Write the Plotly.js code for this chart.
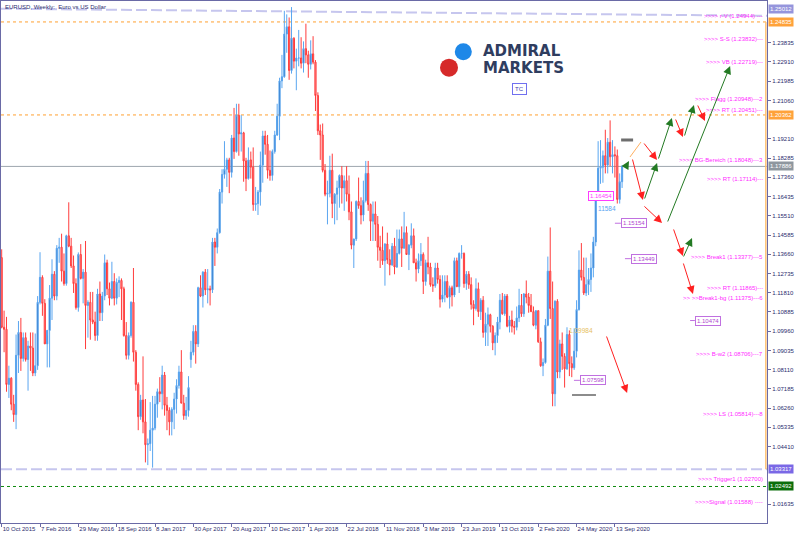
<!DOCTYPE html>
<html><head><meta charset="utf-8">
<script src="https://cdn.plot.ly/plotly-3.0.1.min.js"></script>
<style>html,body{margin:0;padding:0;background:#fff}#chart{width:800px;height:536px}</style>
</head><body><div id="chart"></div>
<script>
// ---- data: EURUSD weekly candles, first week starting 2015-10-18 ----
const firstWeek = Date.UTC(2015, 9, 18);
const open = [1.1350,1.1015,1.1005,1.0740,1.0770,1.0645,1.0595,1.0880,1.0990,1.0865,1.0965,
1.0860,1.0925,1.0915,1.0795,1.0830,1.1135,1.1255,1.1130,1.0935,1.1000,
1.1155,1.1270,1.1165,1.1395,1.1400,1.1285,1.1225,1.1455,1.1405,1.1310,
1.1225,1.1110,1.1365,1.1250,1.1280,1.1120,1.1135,1.1050,1.1040,1.0975,
1.1175,1.1085,1.1165,1.1325,1.1200,1.1155,1.1235,1.1155,1.1230,1.1240,
1.1200,1.0975,1.0880,1.0975,1.1135,1.0895,1.0740,1.0585,1.0665,1.0560,
1.0450,1.0455,1.0520,1.0530,1.0645,1.0705,1.0695,1.0785,1.0640,1.0615,
1.0560,1.0620,1.0670,1.0735,1.0800,1.0650,1.0590,1.0615,1.0860,1.0895,
1.0995,1.0935,1.1205,1.1165,1.1280,1.1195,1.1200,1.1195,1.1425,1.1400,
1.1470,1.1665,1.1750,1.1775,1.1820,1.1760,1.1925,1.1860,1.2035,1.1945,
1.1950,1.1815,1.1730,1.1820,1.1785,1.1605,1.1610,1.1665,1.1795,1.1935,
1.1895,1.1770,1.1745,1.1860,1.1940,1.2030,1.2200,1.2220,1.2425,1.2460,
1.2250,1.2405,1.2295,1.2310,1.2310,1.2285,1.2355,1.2325,1.2280,1.2330,
1.2290,1.2130,1.1960,1.1940,1.1770,1.1655,1.1660,1.1770,1.1610,1.1655,
1.1685,1.1745,1.1685,1.1720,1.1655,1.1570,1.1410,1.1440,1.1620,1.1600,
1.1555,1.1625,1.1755,1.1605,1.1525,1.1560,1.1510,1.1400,1.1385,1.1335,
1.1415,1.1340,1.1315,1.1405,1.1305,1.1370,1.1440,1.1395,1.1470,1.1365,
1.1410,1.1455,1.1325,1.1295,1.1335,1.1365,1.1235,1.1325,1.1305,1.1220,
1.1215,1.1300,1.1245,1.1150,1.1170,1.1235,1.1160,1.1205,1.1170,1.1335,
1.1210,1.1370,1.1370,1.1225,1.1270,1.1220,1.1125,1.1105,1.1200,1.1090,
1.1145,1.0990,1.1030,1.1075,1.1020,1.0940,1.0975,1.1040,1.1145,1.1080,
1.1165,1.1020,1.1050,1.1020,1.1015,1.1060,1.1120,1.1080,1.1175,1.1160,
1.1120,1.1090,1.1025,1.1095,1.0945,1.0830,1.0845,1.1025,1.1285,1.1105,
1.0695,1.1140,1.0800,1.0935,1.0875,1.0815,1.0980,1.0840,1.0820,1.0900,
1.1100,1.1290,1.1255,1.1180,1.1220,1.1245,1.1300,1.1425,1.1655,1.1780,
1.1785,1.1840,1.1795,1.1905,1.1835,1.1845,1.1840,1.1630,1.1715];
const high = [1.1390,1.1095,1.1065,1.0830,1.0775,1.0690,1.0980,1.1045,1.1060,1.0990,1.0990,
1.0950,1.0990,1.0990,1.0985,1.1165,1.1376,1.1265,1.1150,1.0975,1.1218,
1.1342,1.1285,1.1410,1.1445,1.1465,1.1370,1.1460,1.1616,1.1445,1.1360,
1.1250,1.1375,1.1415,1.1295,1.1430,1.1145,1.1185,1.1185,1.1090,1.1200,
1.1235,1.1185,1.1365,1.1340,1.1230,1.1330,1.1275,1.1250,1.1260,1.1250,
1.1210,1.1040,1.0990,1.1140,1.1300,1.0905,1.0750,1.0690,1.0875,1.0670,
1.0480,1.0655,1.0685,1.0685,1.0720,1.0775,1.0830,1.0800,1.0680,1.0630,
1.0630,1.0700,1.0765,1.0830,1.0905,1.0690,1.0680,1.0780,1.0950,1.1025,
1.1025,1.1210,1.1265,1.1285,1.1295,1.1295,1.1215,1.1445,1.1445,1.1490,
1.1680,1.1775,1.1910,1.1830,1.1830,1.1940,1.2070,1.2090,1.2090,1.2035,
1.1955,1.1830,1.1880,1.1860,1.1880,1.1690,1.1675,1.1860,1.1960,1.1960,
1.1940,1.1865,1.1870,1.1960,1.2090,1.2215,1.2325,1.2537,1.2520,1.2505,
1.2555,1.2410,1.2355,1.2445,1.2410,1.2390,1.2475,1.2345,1.2395,1.2415,
1.2300,1.2145,1.1990,1.1995,1.1800,1.1720,1.1840,1.1850,1.1660,1.1720,
1.1750,1.1790,1.1745,1.1790,1.1745,1.1620,1.1440,1.1625,1.1735,1.1640,
1.1720,1.1815,1.1815,1.1610,1.1620,1.1620,1.1550,1.1455,1.1500,1.1420,
1.1470,1.1390,1.1420,1.1445,1.1485,1.1485,1.1500,1.1570,1.1500,1.1415,
1.1515,1.1490,1.1345,1.1370,1.1420,1.1375,1.1340,1.1450,1.1325,1.1255,
1.1325,1.1325,1.1265,1.1265,1.1265,1.1265,1.1215,1.1215,1.1350,1.1350,
1.1375,1.1410,1.1375,1.1285,1.1285,1.1255,1.1145,1.1250,1.1230,1.1155,
1.1165,1.1085,1.1110,1.1080,1.1025,1.0990,1.1065,1.1175,1.1180,1.1175,
1.1175,1.1070,1.1095,1.1045,1.1115,1.1200,1.1175,1.1180,1.1240,1.1180,
1.1175,1.1115,1.1095,1.1095,1.0965,1.0865,1.1055,1.1355,1.1495,1.1235,
1.1145,1.1150,1.0955,1.0990,1.0890,1.1015,1.1000,1.0875,1.1010,1.1145,
1.1385,1.1420,1.1350,1.1350,1.1300,1.1370,1.1450,1.1655,1.1910,1.1915,
1.1865,1.1965,1.1925,1.2010,1.1915,1.1885,1.1870,1.1755,1.1795];
const low = [1.1010,1.0895,1.0705,1.0675,1.0616,1.0560,1.0525,1.0795,1.0805,1.0850,1.0850,
1.0710,1.0805,1.0780,1.0780,1.0810,1.1125,1.1070,1.0935,1.0822,1.0822,
1.1050,1.1145,1.1145,1.1325,1.1235,1.1215,1.1215,1.1400,1.1300,1.1180,
1.1100,1.1090,1.1245,1.1130,1.0910,1.0965,1.0955,1.1030,1.0950,1.0950,
1.1045,1.1045,1.1145,1.1170,1.1120,1.1150,1.1120,1.1125,1.1160,1.1050,
1.0970,1.0860,1.0860,1.0965,1.0850,1.0710,1.0520,1.0570,1.0505,1.0365,
1.0352,1.0420,1.0340,1.0520,1.0580,1.0655,1.0620,1.0590,1.0520,1.0495,
1.0495,1.0525,1.0600,1.0720,1.0650,1.0570,1.0570,1.0585,1.0820,1.0880,
1.0840,1.0920,1.1160,1.1110,1.1170,1.1130,1.1120,1.1180,1.1310,1.1370,
1.1465,1.1610,1.1730,1.1690,1.1660,1.1735,1.1825,1.1855,1.1840,1.1860,
1.1715,1.1670,1.1725,1.1730,1.1575,1.1575,1.1555,1.1600,1.1710,1.1845,
1.1730,1.1720,1.1720,1.1850,1.1935,1.1915,1.2165,1.2215,1.2335,1.2205,
1.2235,1.2260,1.2155,1.2270,1.2260,1.2240,1.2285,1.2215,1.2255,1.2280,
1.2055,1.1940,1.1820,1.1760,1.1645,1.1510,1.1640,1.1540,1.1510,1.1530,
1.1590,1.1610,1.1575,1.1620,1.1530,1.1390,1.1300,1.1430,1.1585,1.1510,
1.1525,1.1615,1.1575,1.1430,1.1430,1.1430,1.1335,1.1300,1.1315,1.1215,
1.1320,1.1265,1.1310,1.1270,1.1300,1.1365,1.1305,1.1395,1.1365,1.1290,
1.1395,1.1325,1.1235,1.1275,1.1310,1.1175,1.1215,1.1270,1.1210,1.1185,
1.1205,1.1225,1.1110,1.1135,1.1135,1.1155,1.1105,1.1115,1.1160,1.1210,
1.1180,1.1345,1.1205,1.1195,1.1200,1.1100,1.1025,1.1095,1.1065,1.1050,
1.0965,1.0925,1.0925,1.0990,1.0905,1.0880,1.0940,1.1005,1.1075,1.1070,
1.1015,1.0990,1.0990,1.0980,1.1000,1.1040,1.1065,1.1065,1.1130,1.1085,
1.1090,1.1020,1.1005,1.0940,1.0825,1.0780,1.0840,1.1020,1.1055,1.0635,
1.0635,1.0770,1.0770,1.0810,1.0725,1.0810,1.0780,1.0775,1.0810,1.0870,
1.1095,1.1240,1.1170,1.1165,1.1170,1.1185,1.1255,1.1405,1.1640,1.1705,
1.1710,1.1755,1.1755,1.1790,1.1755,1.1735,1.1610,1.1610,1.1685];
const close = [1.1015,1.1005,1.0740,1.0770,1.0645,1.0595,1.0880,1.0990,1.0865,1.0965,1.0860,
1.0925,1.0915,1.0795,1.0830,1.1135,1.1255,1.1130,1.0935,1.1000,1.1155,
1.1270,1.1165,1.1395,1.1400,1.1285,1.1225,1.1455,1.1405,1.1310,1.1225,
1.1110,1.1365,1.1250,1.1280,1.1120,1.1135,1.1050,1.1040,1.0975,1.1175,
1.1085,1.1165,1.1325,1.1200,1.1155,1.1235,1.1155,1.1230,1.1240,1.1200,
1.0975,1.0880,1.0975,1.1135,1.0895,1.0740,1.0585,1.0665,1.0560,1.0450,
1.0455,1.0520,1.0530,1.0645,1.0705,1.0695,1.0785,1.0640,1.0615,1.0560,
1.0620,1.0670,1.0735,1.0800,1.0650,1.0590,1.0615,1.0725,1.0895,1.0995,
1.0935,1.1205,1.1165,1.1280,1.1195,1.1200,1.1195,1.1425,1.1400,1.1470,
1.1665,1.1750,1.1775,1.1820,1.1760,1.1925,1.1860,1.2035,1.1945,1.1950,
1.1815,1.1730,1.1820,1.1785,1.1605,1.1610,1.1665,1.1795,1.1935,1.1895,
1.1770,1.1745,1.1860,1.1940,1.2030,1.2200,1.2220,1.2425,1.2460,1.2250,
1.2405,1.2295,1.2310,1.2310,1.2285,1.2355,1.2325,1.2280,1.2330,1.2290,
1.2130,1.1960,1.1940,1.1770,1.1655,1.1660,1.1770,1.1610,1.1655,1.1685,
1.1745,1.1685,1.1720,1.1655,1.1570,1.1410,1.1440,1.1620,1.1600,1.1555,
1.1625,1.1755,1.1605,1.1525,1.1560,1.1510,1.1400,1.1385,1.1335,1.1415,
1.1340,1.1315,1.1405,1.1305,1.1370,1.1440,1.1395,1.1470,1.1365,1.1410,
1.1455,1.1325,1.1295,1.1335,1.1365,1.1235,1.1325,1.1305,1.1220,1.1215,
1.1300,1.1245,1.1150,1.1170,1.1235,1.1160,1.1205,1.1170,1.1335,1.1210,
1.1370,1.1370,1.1225,1.1270,1.1220,1.1125,1.1105,1.1200,1.1090,1.1145,
1.0990,1.1030,1.1075,1.1020,1.0940,1.0975,1.1040,1.1145,1.1080,1.1165,
1.1020,1.1050,1.1020,1.1015,1.1060,1.1120,1.1080,1.1175,1.1160,1.1120,
1.1090,1.1025,1.1095,1.0945,1.0830,1.0845,1.1025,1.1285,1.1105,1.0695,
1.1140,1.0800,1.0935,1.0875,1.0815,1.0980,1.0840,1.0820,1.0900,1.1100,
1.1290,1.1255,1.1180,1.1220,1.1245,1.1300,1.1425,1.1655,1.1780,1.1785,
1.1840,1.1795,1.1905,1.1835,1.1845,1.1840,1.1630,1.1715,1.17886];

// x tick labels (one every 16 weeks)
const xTickLabels = ['10 Oct 2015','7 Feb 2016','29 May 2016','18 Sep 2016','8 Jan 2017','30 Apr 2017',
 '20 Aug 2017','10 Dec 2017','1 Apr 2018','22 Jul 2018','11 Nov 2018','3 Mar 2019','23 Jun 2019',
 '13 Oct 2019','2 Feb 2020','24 May 2020','13 Sep 2020'];
const xTickWeeks = [0,16,32,48,64,80,96,112,128,144,160,176,192,208,224,240,256];
const yTickValues = [1.01635,1.04410,1.05335,1.06260,1.07185,1.08110,1.09035,1.09960,1.10885,1.11810,
 1.12735,1.13660,1.14585,1.15510,1.16435,1.17360,1.18285,1.19210,1.21060,1.21985,1.22910,1.23835];

// level lines
const orangeLevels = [1.24835, 1.20362];
const currentPrice = 1.17886;
const supportDashed = 1.03317;
const greenLevel = 1.02492;
const topTrendline = [1.2547, 1.2513];   // left / right end

// right-axis price tags
const tagTexts  = ['1.25012','1.24835','1.20362','1.17886','1.03317','1.02492'];
const tagPrices = [1.2546, 1.24835, 1.20362, 1.17886, 1.03317, 1.02492];
const tagColors = ['#9595dc','#ffa23a','#ffa23a','#8e979f','#7a68e6','#0c6e0c'];

// analyst level notes (magenta)
const noteTexts = ['>>>> r-V (1.24944) ---','>>>> S-S (1.23832)---','>>>> VB (1.22719)---',
 '>>>> Flagg (1.20948)---2','>>>> RT (1.20451)---','>>>> BG-Bereich (1.18048)---3','>>>> RT (1.17114)---',
 '>>>> Break1 (1.13377)---5','>>>> RT (1.11865)---','>> >>Break1-bg (1.11375)---6','>>>> B-w2 (1.08706)---7',
 '>>>> LS (1.05814)---8','>>>> Trigger1 (1.02700)','>>>>Signal (1.01588) ----'];
const notePrices = [1.24944,1.23832,1.22719,1.20948,1.20451,1.18048,1.17114,1.13377,1.11865,1.11375,1.08706,1.05814,1.02700,1.01588];

// boxed price marks inside the chart: [text, week of left edge, price, leader from week]
const boxTexts  = ['1.16454','1.15154','1.13449','1.10474','1.07598'];
const boxWeeks  = [244.8, 258.5, 262.7, 289.4, 241.4];
const boxPrices = [1.16454, 1.15154, 1.13449, 1.10474, 1.07598];
const boxLeaderFrom = [253.5, 256.0, 260.2, 287.4, 238.9];
const boxColors = ['#ff3cff','#c070e0','#c070e0','#c070e0','#c070e0'];

// projection arrows: tail week, tail price, tip week, tip price, direction
const arrowTailW = [267.7,260.2,263.2,268.2,267.7,277.8,274.0,281.1,284.9,290.3,280.3,284.4,284.4,252.3];
const arrowTailP = [1.19061,1.17810,1.18291,1.16271,1.16031,1.15165,1.18195,1.20215,1.19301,1.20888,1.14925,1.13482,1.13289,1.09779];
const arrowTipW  = [273.6,261.9,267.7,273.6,275.7,304.1,279.8,284.4,289.0,293.6,284.4,288.2,288.6,261.1];
const arrowTipP  = [1.18195,1.18147,1.16271,1.18051,1.15165,1.22716,1.20215,1.19301,1.20840,1.20071,1.13578,1.14443,1.11750,1.06989];
const arrowKind  = ['down','up','down','up','down','up','up','down','up','down','down','up','down','down'];

const PAD_L = 1, PAD_R = 33, PAD_T = 1, PAD_B = 13;
function dateAt(w){ const d = new Date(firstWeek + w*7*86400000); return d.toISOString().slice(0,19).replace('T',' '); }
const weeks = open.map((_, i) => dateAt(i));

const traces = [{
  type:'candlestick', x: weeks, open, high, low, close,
  increasing:{line:{color:'#5aa6f0', width:1}, fillcolor:'#1b5aa8'},
  decreasing:{line:{color:'#ff3c3c', width:1}, fillcolor:'#ff9c9c'},
  whiskerwidth:0, hoverinfo:'skip', showlegend:false
}];

const FONT = 'Liberation Sans, Arial, sans-serif';
const shapes = [];
const annotations = [];

orangeLevels.forEach(p => shapes.push({type:'line', xref:'paper', x0:0, x1:1, yref:'y', y0:p, y1:p, line:{color:'#ffa030', width:1, dash:'dot'}, layer:'below'}));
shapes.push({type:'line', xref:'paper', x0:0, x1:1, yref:'y', y0:currentPrice, y1:currentPrice, line:{color:'#9ea6ae', width:1}, layer:'below'});
shapes.push({type:'line', xref:'paper', x0:0, x1:1, yref:'y', y0:supportDashed, y1:supportDashed, line:{color:'#c6c6ee', width:2, dash:'11px,4px'}, layer:'below'});
shapes.push({type:'line', xref:'paper', x0:0, x1:1, yref:'y', y0:greenLevel, y1:greenLevel, line:{color:'#108a10', width:1, dash:'dot'}, layer:'below'});
shapes.push({type:'line', xref:'paper', x0:0, x1:1, yref:'y', y0:topTrendline[0], y1:topTrendline[1], line:{color:'#c6c6ee', width:2, dash:'11px,4px'}, layer:'below'});
// orange vertical range bar at right edge
shapes.push({type:'line', xref:'paper', x0:0.9985, x1:0.9985, yref:'y', y0:orangeLevels[0], y1:supportDashed, line:{color:'#ffc070', width:1.5}});
// gray markers
shapes.push({type:'line', xref:'x', x0:dateAt(238.1), x1:dateAt(248.1), yref:'y', y0:1.06892, y1:1.06892, line:{color:'#8c8c8c', width:2}});
shapes.push({type:'line', xref:'x', x0:dateAt(258.6), x1:dateAt(263.6), yref:'y', y0:1.19157, y1:1.19157, line:{color:'#6e6e6e', width:3}});
// orange projection segment
shapes.push({type:'line', xref:'x', x0:dateAt(262.3), x1:dateAt(266.9), yref:'y', y0:1.18339, y1:1.19061, line:{color:'#ffb060', width:1}});

// price tags on the axis
tagTexts.forEach((t, k) => annotations.push({xref:'paper', x:1, xanchor:'left', xshift:1, yref:'y', y:tagPrices[k], yanchor:'middle',
  text:t, showarrow:false, bgcolor:tagColors[k], borderpad:1, font:{family:FONT, size:6, color:'#ffffff'}}));

// level notes
noteTexts.forEach((t, k) => annotations.push({xref:'paper', x:0.9974, xanchor:'right', yref:'y', y:notePrices[k], yanchor:'middle', yshift:3.5,
  text:t, showarrow:false, font:{family:FONT, size:6, color:'#ff2cff'}}));

// boxed marks
boxTexts.forEach((t, k) => {
  shapes.push({type:'line', xref:'x', x0:dateAt(boxLeaderFrom[k]), x1:dateAt(boxWeeks[k]), yref:'y', y0:boxPrices[k], y1:boxPrices[k], line:{color:boxColors[k], width:1}});
  annotations.push({xref:'x', x:dateAt(boxWeeks[k]), xanchor:'left', yref:'y', y:boxPrices[k], yanchor:'middle', text:t, showarrow:false,
    bgcolor:'#ffffff', bordercolor:boxColors[k], borderwidth:1, borderpad:1, font:{family:FONT, size:6, color: k===0 ? '#ff3cff' : '#b048d0'}});
});
annotations.push({xref:'x', x:dateAt(252.7), yref:'y', y:1.15862, text:'11584', showarrow:false, font:{family:FONT, size:6.5, color:'#5aa6f0'}});
annotations.push({xref:'x', x:dateAt(236.0), xanchor:'left', yref:'y', y:1.09995, text:'1.09984', showarrow:false, font:{family:FONT, size:6.5, color:'#e6c060'}});

// projection arrows
arrowTipW.forEach((w, k) => {
  const col = arrowKind[k] === 'up' ? '#237a23' : '#ff2020';
  annotations.push({xref:'x', yref:'y', x:dateAt(w), y:arrowTipP[k], axref:'x', ayref:'y', ax:dateAt(arrowTailW[k]), ay:arrowTailP[k],
    text:'', showarrow:true, arrowhead:2, arrowsize:1.6, arrowwidth:1, arrowcolor:col, standoff:0, startstandoff:0});
});

// title
annotations.push({xref:'paper', yref:'paper', x:0, y:1, xanchor:'left', yanchor:'top', xshift:2, yshift:-1,
  text:'EURUSD, Weekly: \u00a0Euro vs US Dollar', showarrow:false, font:{family:FONT, size:6, color:'#2c2c6e'}});

// logo
function px2paperX(px){ return (px - PAD_L) / (800 - PAD_L - PAD_R); }
function px2paperY(py){ return 1 - (py - PAD_T) / (536 - PAD_T - PAD_B); }
shapes.push({type:'circle', xref:'paper', yref:'paper', xsizemode:'pixel', ysizemode:'pixel', xanchor:px2paperX(463.3), yanchor:px2paperY(51.7),
  x0:-8.5, x1:8.5, y0:-8.5, y1:8.5, fillcolor:'#1e88e8', line:{width:0}});
shapes.push({type:'circle', xref:'paper', yref:'paper', xsizemode:'pixel', ysizemode:'pixel', xanchor:px2paperX(449), yanchor:px2paperY(67.7),
  x0:-9, x1:9, y0:-9, y1:9, fillcolor:'#d62a2a', line:{width:0}});
annotations.push({xref:'paper', yref:'paper', x:px2paperX(482), y:px2paperY(50.5), xanchor:'left', yanchor:'middle', text:'<b>ADMIRAL</b>',
  borderpad:0, showarrow:false, font:{family:'DejaVu Sans, sans-serif', size:15, color:'#2f3d5f'}});
annotations.push({xref:'paper', yref:'paper', x:px2paperX(482), y:px2paperY(68.5), xanchor:'left', yanchor:'middle', text:'<b>MARKETS</b>',
  borderpad:0, showarrow:false, font:{family:'DejaVu Sans, sans-serif', size:15, color:'#2f3d5f'}});
annotations.push({xref:'paper', yref:'paper', x:px2paperX(519.5), y:px2paperY(89), xanchor:'center', yanchor:'middle', text:'TC',
  showarrow:false, bordercolor:'#7070f0', borderwidth:1, borderpad:2, bgcolor:'#ffffff', font:{family:FONT, size:6, color:'#4040b0'}});

const layout = {
  width:800, height:536,
  margin:{l:PAD_L, r:PAD_R, t:PAD_T, b:PAD_B, pad:0},
  paper_bgcolor:'#ffffff', plot_bgcolor:'#ffffff',
  showlegend:false, hovermode:false,
  font:{family:FONT, size:6, color:'#2c2c6e'},
  xaxis:{type:'date', range:[dateAt(-0.29), dateAt(319.5)], rangeslider:{visible:false},
    tickmode:'array', tickvals:xTickWeeks.map(w => dateAt(w)), ticktext:xTickLabels, tickangle:0,
    ticks:'outside', ticklen:3, tickcolor:'#6a6aa6', ticklabelposition:'outside right',
    tickfont:{family:FONT, size:6, color:'#2c2c6e'}, showgrid:false, zeroline:false,
    showline:true, mirror:true, linecolor:'#6a6aa6', linewidth:1, fixedrange:true},
  yaxis:{side:'right', range:[1.00736, 1.25842], tickmode:'array', tickvals:yTickValues,
    ticktext:yTickValues.map(v => v.toFixed(5)), ticks:'outside', ticklen:3, tickcolor:'#6a6aa6',
    tickfont:{family:FONT, size:6, color:'#2c2c6e'}, showgrid:false, zeroline:false,
    showline:true, mirror:true, linecolor:'#6a6aa6', linewidth:1, fixedrange:true},
  shapes, annotations
};
Plotly.newPlot('chart', traces, layout, {displayModeBar:false, staticPlot:true});
</script>
</body></html>
